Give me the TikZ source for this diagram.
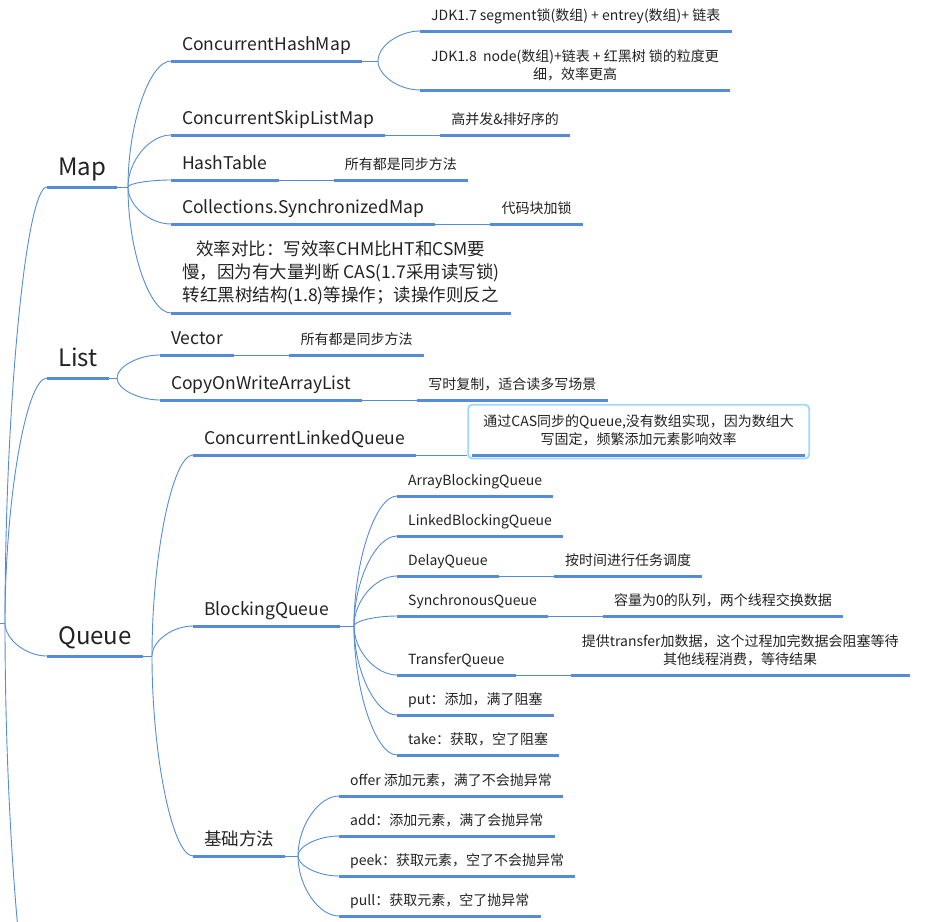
\documentclass[tikz,border=0pt]{standalone}
\usepackage{fontspec}
\setmainfont{Noto Sans CJK SC}
\usetikzlibrary{calc,positioning,fit}
\definecolor{mapblue}{RGB}{86,140,214}
\definecolor{boxblue}{RGB}{160,216,250}
\definecolor{inkgrey}{RGB}{34,34,34}
\begin{document}
\begin{tikzpicture}[
    x=1pt,y=-1pt,
    line cap=butt,
    topic/.style={anchor=south west, inner xsep=11pt, inner ysep=10pt, text depth=0pt, align=center, text=inkgrey},
    maintopic/.style={topic, inner ysep=11pt, font=\fontsize{24}{28}\selectfont},
    subtopic/.style={topic, font=\fontsize{17.5}{23}\selectfont},
    leaftopic/.style={topic, font=\fontsize{14}{18.5}\selectfont},
    notetopic/.style={leaftopic},
    notebox/.style={draw=boxblue, line width=1.8pt, rounded corners=4pt, inner xsep=4pt, inner ysep=1.5pt},
    uline/.style={draw=mapblue, line width=3pt},
    link/.style={draw=mapblue, line width=0.9pt},
    branch/.style={to path={.. controls ($(\tikztostart)!0.5!(\tikztostart|-\tikztotarget)$) and ($(\tikztotarget)!0.5!(\tikztostart|-\tikztotarget)$) .. (\tikztotarget)}}
]
\useasboundingbox (0,0) rectangle (936,921);
\clip (0,0) rectangle (936,921);

% level one
\coordinate (centre) at (-30,623);
\coordinate (root) at (5,623);
\coordinate (nextone) at (47,1071);
\node[maintopic] (map) at (47,187) {Map};
\node[maintopic] (list) at (47,378) {List};
\node[maintopic] (queue) at (47,656) {Queue};

% Map
\coordinate (mapj) at (128,187);
\node[subtopic] (chm) at (171,61) {ConcurrentHashMap};
\node[subtopic] (csl) at (171,135) {ConcurrentSkipListMap};
\node[subtopic] (ht) at (171,180) {HashTable};
\node[subtopic] (csm) at (171,224) {Collections.SynchronizedMap};
\node[subtopic, inner ysep=11pt] (cmp) at (171,313) {效率对比：写效率CHM比HT和CSM要\\慢，因为有大量判断 CAS(1.7采用读写锁)\\转红黑树结构(1.8)等操作；读操作则反之};

\coordinate (chmj) at (378,61);
\node[leaftopic] (jdk7) at (420,31) {JDK1.7 segment锁(数组) + entrey(数组)+ 链表};
\node[leaftopic] (jdk8) at (420,90) {JDK1.8\ \ node(数组)+链表 + 红黑树 锁的粒度更\\细，效率更高};

\node[notetopic, right=55pt of csl.south east, anchor=south west] (cslnote) {高并发\&排好序的};
\node[notetopic, right=55pt of ht.south east, anchor=south west] (htnote) {所有都是同步方法};
\node[notetopic, right=55pt of csm.south east, anchor=south west] (csmnote) {代码块加锁};

% List
\coordinate (listj) at (117,378);
\node[subtopic] (vec) at (160,355) {Vector};
\node[subtopic] (cow) at (160,400) {CopyOnWriteArrayList};
\node[notetopic, right=55pt of vec.south east, anchor=south west] (vecnote) {所有都是同步方法};
\node[notetopic, right=55pt of cow.south east, anchor=south west] (cownote) {写时复制，适合读多写场景};

% Queue
\coordinate (queuej) at (152,656);
\node[subtopic] (clq) at (193,455) {ConcurrentLinkedQueue};
\node[subtopic] (bq) at (193,626) {BlockingQueue};
\node[subtopic] (basic) at (193,856) {基础方法};
\node[notetopic, right=56pt of clq.south east, anchor=south west] (clqnote) {通过CAS同步的Queue,没有数组实现，因为数组大\\写固定，频繁添加元素影响效率};
\node[notebox, fit=(clqnote), yshift=-2pt] (clqbox) {};

\coordinate (bqj) at (354,626);
\foreach \n/\y/\t in {abq/496/ArrayBlockingQueue, lbq/536/LinkedBlockingQueue,
    dq/576/DelayQueue, sq/616/SynchronousQueue, tq/675/TransferQueue,
    put/715/put：添加，满了阻塞, take/755/take：获取，空了阻塞} {
    \node[leaftopic] (\n) at (397,\y) {\t};
}
\node[notetopic, right=55pt of dq.south east, anchor=south west] (dqnote) {按时间进行任务调度};
\node[notetopic, right=55pt of sq.south east, anchor=south west] (sqnote) {容量为0的队列，两个线程交换数据};
\node[notetopic, right=55pt of tq.south east, anchor=south west] (tqnote) {提供transfer加数据，这个过程加完数据会阻塞等待\\其他线程消费，等待结果};

\coordinate (basicj) at (298,856);
\foreach \n/\y/\t in {offer/796/offer 添加元素，满了不会抛异常, add/836/add：添加元素，满了会抛异常,
    peek/876/peek：获取元素，空了不会抛异常, pull/916/pull：获取元素，空了抛异常} {
    \node[leaftopic] (\n) at (339,\y) {\t};
}

% connectors
\draw[link] (centre) -- (root);
\foreach \n in {map,list,queue} {
    \draw[link] (root) to[branch] (\n.south west);
}
\draw[link] (root) to[branch] (nextone);

\draw[link] (map.south east) -- (mapj);
\foreach \n in {chm,csl,ht,csm,cmp} {
    \draw[link] (mapj) to[branch] (\n.south west);
}
\draw[link] (chm.south east) -- (chmj);
\foreach \n in {jdk7,jdk8} {
    \draw[link] (chmj) to[branch] (\n.south west);
}

\draw[link] (list.south east) -- (listj);
\foreach \n in {vec,cow} {
    \draw[link] (listj) to[branch] (\n.south west);
}

\draw[link] (queue.south east) -- (queuej);
\foreach \n in {clq,bq,basic} {
    \draw[link] (queuej) to[branch] (\n.south west);
}
\draw[link] (bq.south east) -- (bqj);
\foreach \n in {abq,lbq,dq,sq,tq,put,take} {
    \draw[link] (bqj) to[branch] (\n.south west);
}
\draw[link] (basic.south east) -- (basicj);
\foreach \n in {offer,add,peek,pull} {
    \draw[link] (basicj) to[branch] (\n.south west);
}

\foreach \a/\b in {csl/cslnote, ht/htnote, csm/csmnote, vec/vecnote, cow/cownote,
    dq/dqnote, sq/sqnote, tq/tqnote} {
    \draw[link] (\a.south east) -- (\b.south west);
}
\draw[link] (clq.south east) -- (clq.south east -| clqbox.west);

% underlines
\foreach \n in {map,list,queue,chm,csl,ht,csm,cmp,jdk7,jdk8,cslnote,htnote,csmnote,
    vec,cow,vecnote,cownote,clq,bq,basic,clqnote,abq,lbq,dq,sq,tq,put,take,
    dqnote,sqnote,tqnote,offer,add,peek,pull} {
    \draw[uline] (\n.south west) -- (\n.south east);
}
\end{tikzpicture}
\end{document}
